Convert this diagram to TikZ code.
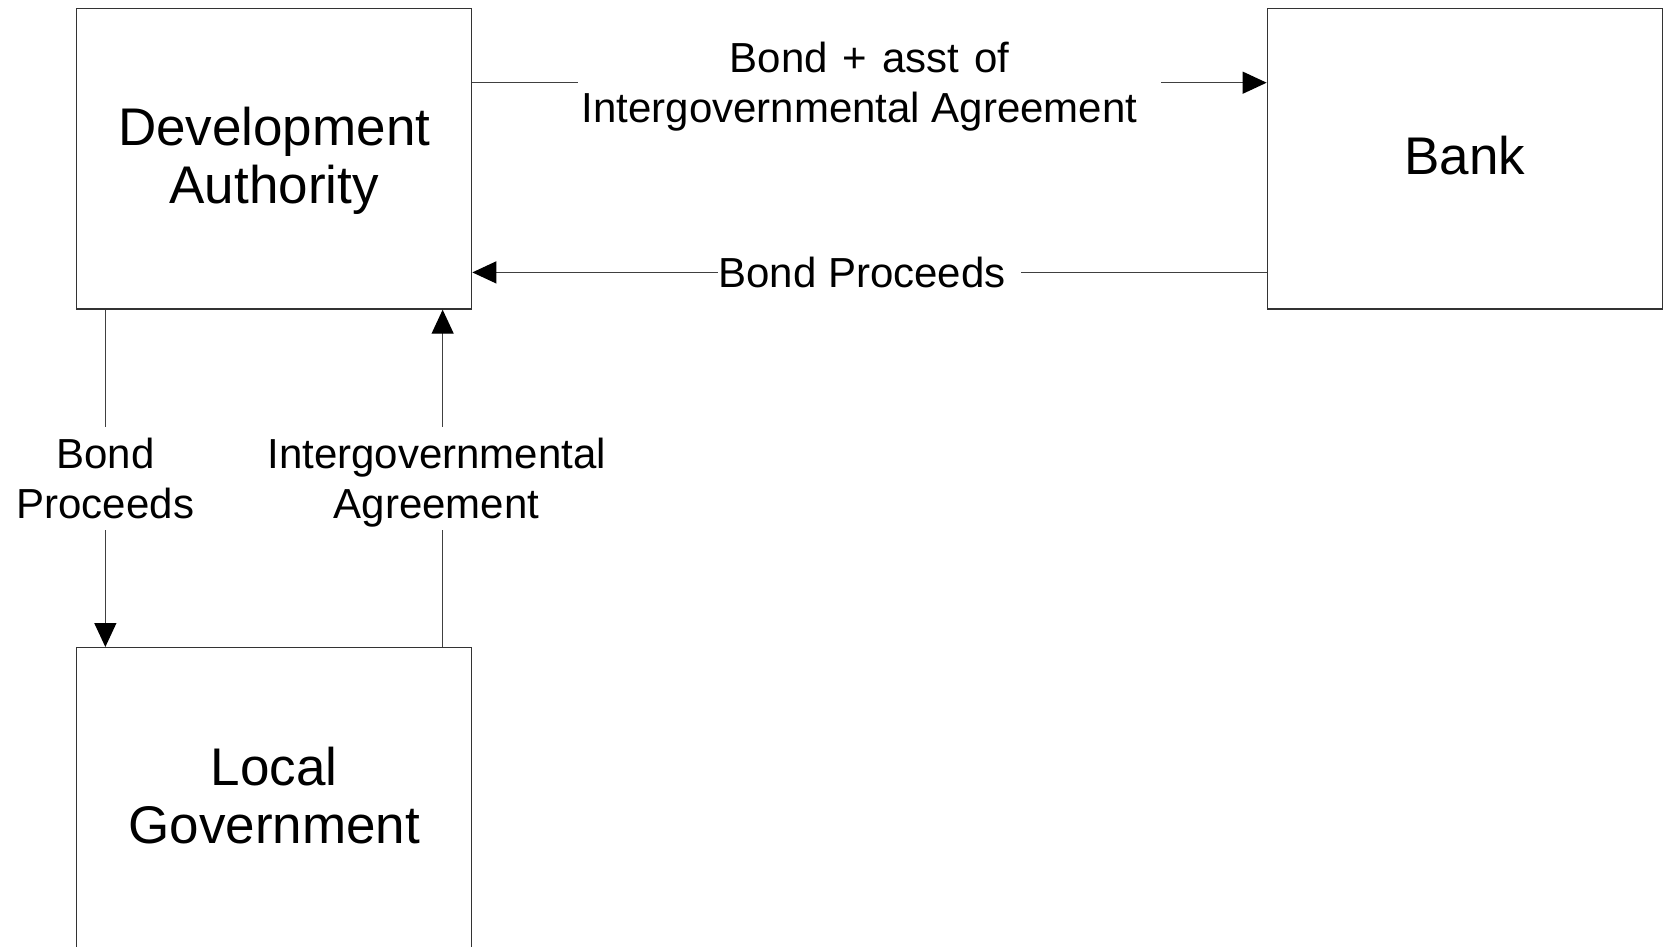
\documentclass[tikz,border=0pt]{standalone}
\usepackage{fontspec}
\setmainfont{Liberation Sans}
\usetikzlibrary{arrows.meta,calc}
\newcommand\lblTop{\rule{0pt}{40pt}}
\newcommand\lblBot{\rule[-10pt]{0pt}{10pt}}
\begin{document}
\begin{tikzpicture}[x=1pt,y=-1pt,
  box/.style={draw=black!80, line width=1.3pt, minimum width=395pt, minimum height=300.7pt, inner sep=0pt, align=center, font=\fontsize{53}{58}\selectfont},
  conn/.style={draw=black!75, line width=1.3pt},
  arr/.style={conn, -{Triangle[length=24pt,width=22pt,color=black]}},
  lbl/.style={fill=white, inner sep=0pt, align=center, font=\fontsize{42}{50}\selectfont}]
\useasboundingbox (0,0) rectangle (1665,947);
\clip (0,0) rectangle (1665,947);
\node[box] (DA) at (274.2,158.7) {\rule{0pt}{42pt}Development\\Authority};
\node[box] (Bank) at (1464.8,158.7) {\raisebox{6pt}{Bank}};
\node[box] (LG) at (274.2,798) {Local\\Government\rule[-5pt]{0pt}{5pt}};
\draw[arr] ($(DA.north east)+(0,75)$) -- node[lbl, minimum width=583pt, yshift=-4pt] {Bond\hspace{15pt}+\hspace{15pt}asst\hspace{15pt}of\\Intergovernmental Agreement\rule{20pt}{0pt}} ($(Bank.north west)+(0,75)$);
\draw[arr] ($(Bank.south west)+(0,-37.3)$) -- node[lbl] {Bond Proceeds\hspace{15pt}} ($(DA.south east)+(0,-37.3)$);
\draw[arr] ($(DA.south west)+(29.3,0)$) -- node[lbl, minimum height=102.6pt] {\lblTop Bond\\Proceeds\lblBot} ($(LG.north west)+(29.3,0)$);
\draw[arr] ($(LG.north east)+(-29.7,0)$) -- node[lbl, minimum height=102.6pt, xshift=-6pt] {\lblTop Intergovernmental\\Agreement\lblBot} ($(DA.south east)+(-29.7,0)$);
\end{tikzpicture}
\end{document}
